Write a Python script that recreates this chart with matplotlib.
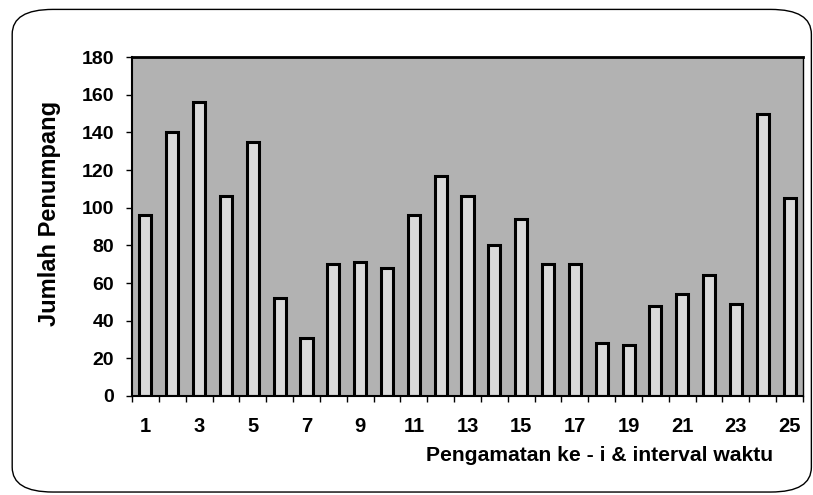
import numpy as np
import matplotlib.pyplot as plt
from matplotlib.patches import FancyBboxPatch

# data
obs = list(range(1, 26))
penumpang = [96, 140, 156, 106, 135, 52, 31, 70, 71, 68, 96, 117, 106,
             80, 94, 70, 70, 28, 27, 48, 54, 64, 49, 150, 105]
yticks = list(range(0, 181, 20))
xlabels = [str(i) for i in range(1, 26, 2)]

plt.rcParams['font.family'] = ['Liberation Sans', 'DejaVu Sans']
plt.rcParams['font.weight'] = 'bold'

fig = plt.figure(figsize=(8.13, 4.95), dpi=100)

# rounded outer frame like the scanned excel chart
frame = FancyBboxPatch((0.015, 0.006), 0.983, 0.975,
                       boxstyle="round,pad=0,rounding_size=0.05",
                       transform=fig.transFigure, fill=False,
                       edgecolor='black', linewidth=1.0)
fig.patches.append(frame)

ax = fig.add_axes([0.1624, 0.2, 0.8253, 0.6848])
ax.set_facecolor('#b2b2b2')

x = np.arange(len(obs))
ax.bar(x, penumpang, width=0.45, color='#dadada', edgecolor='black', linewidth=2.2)

ax.set_xlim(-0.5, len(obs) - 0.5)
ax.set_ylim(0, 180)
ax.set_yticks(yticks)
ax.set_yticklabels([str(v) for v in yticks], fontsize=14, fontweight='bold')

# ticks between categories, labels on odd categories
ax.set_xticks(np.arange(-0.5, len(obs), 1.0))
ax.set_xticklabels([])
ax.set_xticks(x[::2], minor=True)
ax.set_xticklabels(xlabels, minor=True, fontsize=14.5, fontweight='bold')
ax.tick_params(axis='x', which='minor', length=0, pad=15)
ax.tick_params(axis='x', which='major', length=4, width=1, direction='out')
ax.tick_params(axis='y', length=4, width=1, direction='out', pad=9)

for s in ax.spines.values():
    s.set_linewidth(1.0)
ax.spines['left'].set_linewidth(1.5)
ax.spines['bottom'].set_linewidth(1.5)
ax.spines['top'].set_linewidth(2.0)

fig.text(0.0615, 0.568, 'Jumlah Penumpang', rotation=90, ha='center', va='center',
         fontsize=17, fontweight='bold')
fig.text(0.951, 0.0687, 'Pengamatan ke - i & interval waktu', ha='right', va='baseline',
         fontsize=15.2, fontweight='bold')

fig.savefig('out.png', dpi=100)
